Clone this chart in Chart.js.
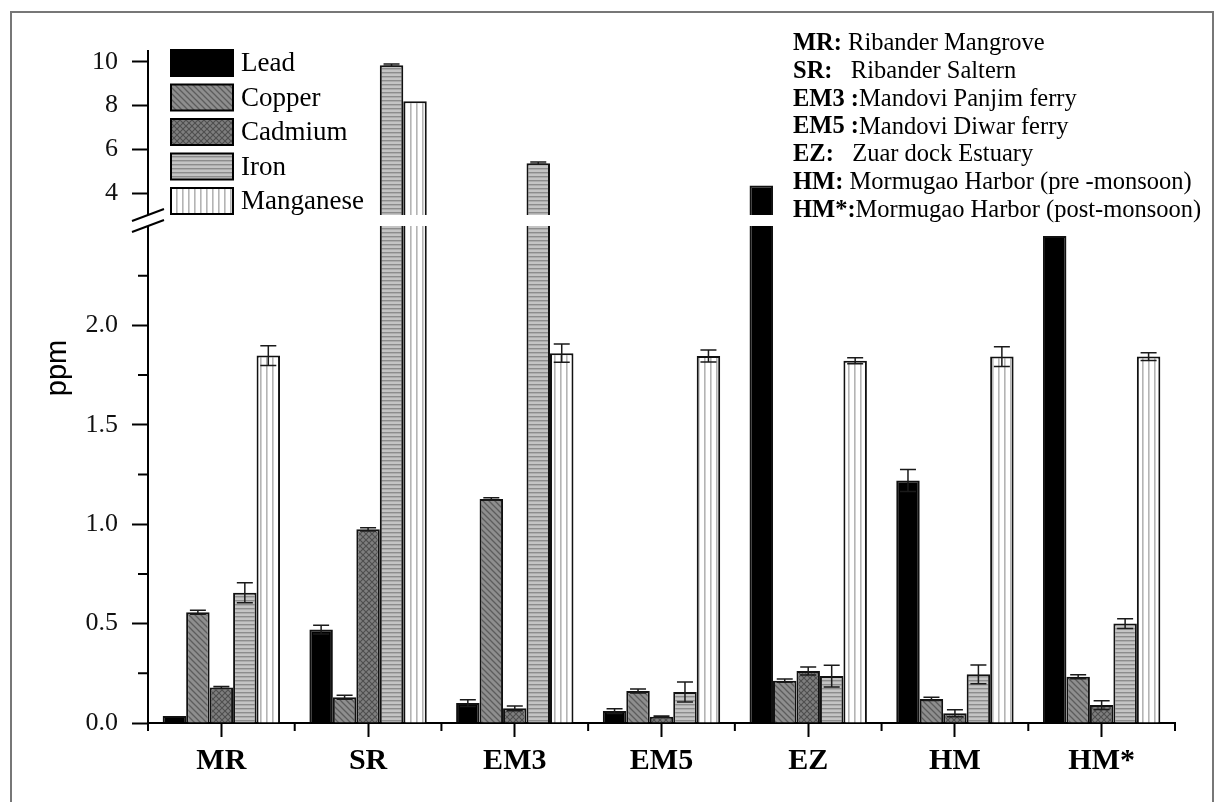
<!DOCTYPE html>
<html>
<head>
<meta charset="utf-8">
<script src="https://cdn.jsdelivr.net/npm/chart.js@4.4.1/dist/chart.umd.min.js"></script>
<style>
html, body { margin: 0; padding: 0; background: #fff; }
</style>
</head>
<body>
<canvas id="chart" width="1224" height="802"></canvas>
<script>
// sampling sites on the x axis
var sites = ['MR', 'SR', 'EM3', 'EM5', 'EZ', 'HM', 'HM*'];
var metals = ['Lead', 'Copper', 'Cadmium', 'Iron', 'Manganese'];

// concentrations (ppm), one value per site
var lead      = [0.035, 0.47, 0.10, 0.06, 4.35, 1.22, 2.45];
var copper    = [0.557, 0.13, 1.127, 0.161, 0.213, 0.121, 0.233];
var cadmium   = [0.178, 0.974, 0.074, 0.032, 0.262, 0.049, 0.09];
var iron      = [0.655, 9.85, 5.37, 0.156, 0.236, 0.245, 0.50];
var manganese = [1.848, 8.2, 1.86, 1.846, 1.822, 1.843, 1.843];

// standard deviations for the error bars
var leadErr      = [0, 0.022, 0.017, 0.012, 0, 0.055, 0];
var copperErr    = [0.01, 0.01, 0.006, 0.01, 0.008, 0.008, 0.01];
var cadmiumErr   = [0.005, 0.008, 0.012, 0.003, 0.02, 0.018, 0.022];
var ironErr      = [0.05, 0.05, 0.05, 0.05, 0.055, 0.047, 0.025];
var manganeseErr = [0.05, 0, 0.046, 0.03, 0.015, 0.05, 0.02];

// y axis: major ticks (labelled), minor ticks, and the break
var yTicks = [0, 0.5, 1.0, 1.5, 2.0, 4, 6, 8, 10];
var yMinorTicks = [0.25, 0.75, 1.25, 1.75, 2.25];
var breakFrom = 2.5;
var breakTo = 3;

// key for the site codes
var siteCodes = ['MR:', 'SR:', 'EM3 :', 'EM5 :', 'EZ:', 'HM:', 'HM*:'];
var siteNames = [' Ribander Mangrove', '   Ribander Saltern', 'Mandovi Panjim ferry',
	'Mandovi Diwar ferry', '   Zuar dock Estuary', ' Mormugao Harbor (pre -monsoon)',
	'Mormugao Harbor (post-monsoon)'];

var serif = '"Liberation Serif", "Times New Roman", serif';

/**
 * Builds a repeating fill pattern from a small tile.
 */
function makePattern(w, h, bg, draw) {
	var c = document.createElement('canvas');
	c.width = w;
	c.height = h;
	var g = c.getContext('2d');
	g.fillStyle = bg;
	g.fillRect(0, 0, w, h);
	draw(g, w, h);
	return g.createPattern(c, 'repeat');
}

var copperFill = makePattern(6, 6, '#8e8e8e', function(g, w, h) {
	g.strokeStyle = '#5c5c5c';
	g.lineWidth = 1.3;
	g.beginPath();
	g.moveTo(-1, -1); g.lineTo(w + 1, h + 1);
	g.moveTo(-1 - w, -1); g.lineTo(1, h + 1);
	g.moveTo(w - 1, -1); g.lineTo(2 * w + 1, h + 1);
	g.stroke();
});
var cadmiumFill = makePattern(6, 6, '#7e7e7e', function(g, w, h) {
	g.strokeStyle = '#4e4e4e';
	g.lineWidth = 1.1;
	g.beginPath();
	g.moveTo(0, 0); g.lineTo(w, h);
	g.moveTo(w, 0); g.lineTo(0, h);
	g.stroke();
});
var ironFill = makePattern(4, 4, '#c4c4c4', function(g, w, h) {
	g.fillStyle = '#8c8c8c';
	g.fillRect(0, 0, w, 1.4);
});
var manganeseFill = makePattern(6, 4, '#ffffff', function(g, w, h) {
	g.fillStyle = '#b4b4b4';
	g.fillRect(2, 0, 1.6, h);
});

var fills = ['#000000', copperFill, cadmiumFill, ironFill, manganeseFill];
var series = [lead, copper, cadmium, iron, manganese];
var errors = [leadErr, copperErr, cadmiumErr, ironErr, manganeseErr];

/**
 * Linear scale with a gap: values up to breakFrom use the lower part of the
 * axis, values from breakTo up use what is left above the gap.
 */
class BrokenScale extends Chart.LinearScale {
	_parts() {
		var o = this.options.axisBreak;
		var lowTop = this.bottom - (this.bottom - this.top) * o.lowerFraction;
		return { o: o, lowTop: lowTop, highBottom: lowTop - o.gap };
	}
	getPixelForValue(value) {
		var p = this._parts();
		if (value <= p.o.from) {
			return this.bottom - (value - this.min) / (p.o.from - this.min) * (this.bottom - p.lowTop);
		}
		if (value >= p.o.to) {
			return p.highBottom - (value - p.o.to) / (this.max - p.o.to) * (p.highBottom - this.top);
		}
		return p.lowTop - (value - p.o.from) / (p.o.to - p.o.from) * (p.lowTop - p.highBottom);
	}
	getValueForPixel(pixel) {
		var p = this._parts();
		if (pixel >= p.lowTop) {
			return this.min + (this.bottom - pixel) / (this.bottom - p.lowTop) * (p.o.from - this.min);
		}
		if (pixel <= p.highBottom) {
			return p.o.to + (p.highBottom - pixel) / (p.highBottom - this.top) * (this.max - p.o.to);
		}
		return p.o.from + (p.lowTop - pixel) / (p.lowTop - p.highBottom) * (p.o.to - p.o.from);
	}
}
BrokenScale.id = 'broken';
BrokenScale.defaults = Chart.LinearScale.defaults;
Chart.register(BrokenScale);

// error bars, the axis break, minor ticks, legend and site key
var decorPlugin = {
	id: 'decor',
	beforeDraw(chart) {
		var ctx = chart.ctx;
		ctx.save();
		ctx.fillStyle = '#ffffff';
		ctx.fillRect(0, 0, chart.width, chart.height);
		ctx.strokeStyle = '#777777';
		ctx.lineWidth = 2;
		ctx.strokeRect(11, 12, chart.width - 22, chart.height);
		ctx.restore();
	},
	afterDatasetsDraw(chart) {
		var ctx = chart.ctx;
		var y = chart.scales.y;
		var x = chart.scales.x;
		var area = chart.chartArea;
		ctx.save();

		// error bars
		ctx.strokeStyle = '#1a1a1a';
		ctx.lineWidth = 1.5;
		series.forEach(function(vals, di) {
			var meta = chart.getDatasetMeta(di);
			meta.data.forEach(function(bar, i) {
				var e = errors[di][i];
				if (!e) return;
				var hi = y.getPixelForValue(vals[i] + e);
				var lo = y.getPixelForValue(vals[i] - e);
				ctx.beginPath();
				ctx.moveTo(bar.x, hi); ctx.lineTo(bar.x, lo);
				ctx.moveTo(bar.x - 8, hi); ctx.lineTo(bar.x + 8, hi);
				ctx.moveTo(bar.x - 8, lo); ctx.lineTo(bar.x + 8, lo);
				ctx.stroke();
			});
		});

		// axis break: white band through bars and axis, then the two slashes
		var pTop = y.getPixelForValue(breakTo);
		var pBot = y.getPixelForValue(breakFrom);
		ctx.fillStyle = '#ffffff';
		ctx.fillRect(area.left - 2, pTop, area.right - area.left + 2, pBot - pTop);
		ctx.strokeStyle = '#000000';
		ctx.lineWidth = 2;
		ctx.beginPath();
		[pTop, pBot].forEach(function(py) {
			ctx.moveTo(area.left - 16, py + 6);
			ctx.lineTo(area.left + 16, py - 6);
		});
		ctx.stroke();

		// minor ticks
		ctx.beginPath();
		yMinorTicks.forEach(function(v) {
			var py = y.getPixelForValue(v);
			ctx.moveTo(area.left - 10, py);
			ctx.lineTo(area.left, py);
		});
		for (var i = 0; i <= sites.length; i++) {
			var px = x.getPixelForValue(i - 0.5);
			ctx.moveTo(px, area.bottom);
			ctx.lineTo(px, area.bottom + 8);
		}
		ctx.stroke();
		ctx.restore();
	},
	afterDraw(chart) {
		var ctx = chart.ctx;
		var area = chart.chartArea;
		ctx.save();

		// legend
		var lx = area.left + 23;
		var ly = area.top - 1;
		ctx.textBaseline = 'middle';
		ctx.font = '27px ' + serif;
		chart.data.datasets.forEach(function(ds, i) {
			var top = ly + i * 34.5;
			ctx.fillStyle = ds.backgroundColor;
			ctx.fillRect(lx, top, 62, 26);
			ctx.strokeStyle = '#000000';
			ctx.lineWidth = 2;
			ctx.strokeRect(lx, top, 62, 26);
			ctx.fillStyle = '#000000';
			ctx.fillText(ds.label, lx + 70, top + 14);
		});

		// site key
		var kx = 793;
		siteCodes.forEach(function(code, i) {
			var ky = 44 + i * 27.7;
			ctx.font = 'bold 24.5px ' + serif;
			ctx.fillText(code, kx, ky);
			var w = ctx.measureText(code).width;
			ctx.font = '24.5px ' + serif;
			ctx.fillText(siteNames[i], kx + w, ky);
		});

		// y title
		ctx.translate(58, 368);
		ctx.rotate(-Math.PI / 2);
		ctx.textAlign = 'center';
		ctx.font = '29px "Liberation Sans", Arial, sans-serif';
		ctx.fillText('ppm', 0, 0);
		ctx.restore();
	}
};

var datasets = metals.map(function(name, i) {
	return {
		label: name,
		data: series[i],
		backgroundColor: fills[i],
		borderColor: '#111111',
		borderWidth: 2,
		categoryPercentage: 0.8,
		barPercentage: 1.0
	};
});

var ctx = document.getElementById('chart').getContext('2d');
new Chart(ctx, {
	type: 'bar',
	data: {
		labels: sites,
		datasets: datasets
	},
	plugins: [decorPlugin],
	options: {
		responsive: false,
		animation: false,
		layout: {
			padding: { left: 0, top: 51, right: 49, bottom: 0 }
		},
		plugins: {
			legend: { display: false },
			tooltip: { enabled: true }
		},
		scales: {
			x: {
				grid: {
					drawOnChartArea: false,
					offset: false,
					tickLength: 14,
					tickWidth: 2,
					tickColor: '#000000'
				},
				border: { color: '#000000', width: 2 },
				ticks: {
					color: '#000000',
					padding: 6,
					font: { family: serif, size: 30, weight: 'bold' }
				},
				afterFit: function(scale) { scale.height = 79; }
			},
			y: {
				type: 'broken',
				min: 0,
				max: 10.5,
				axisBreak: { from: breakFrom, to: breakTo, lowerFraction: 0.7396, gap: 11 },
				afterBuildTicks: function(scale) {
					scale.ticks = yTicks.map(function(v) { return { value: v }; });
				},
				grid: {
					drawOnChartArea: false,
					tickLength: 16,
					tickWidth: 2,
					tickColor: '#000000'
				},
				border: { color: '#000000', width: 2 },
				ticks: {
					color: '#111111',
					padding: 14,
					font: { family: serif, size: 26 },
					callback: function(v) {
						return v <= breakFrom ? v.toFixed(1) : String(v);
					}
				},
				afterFit: function(scale) { scale.width = 148; }
			}
		}
	}
});
</script>
</body>
</html>
